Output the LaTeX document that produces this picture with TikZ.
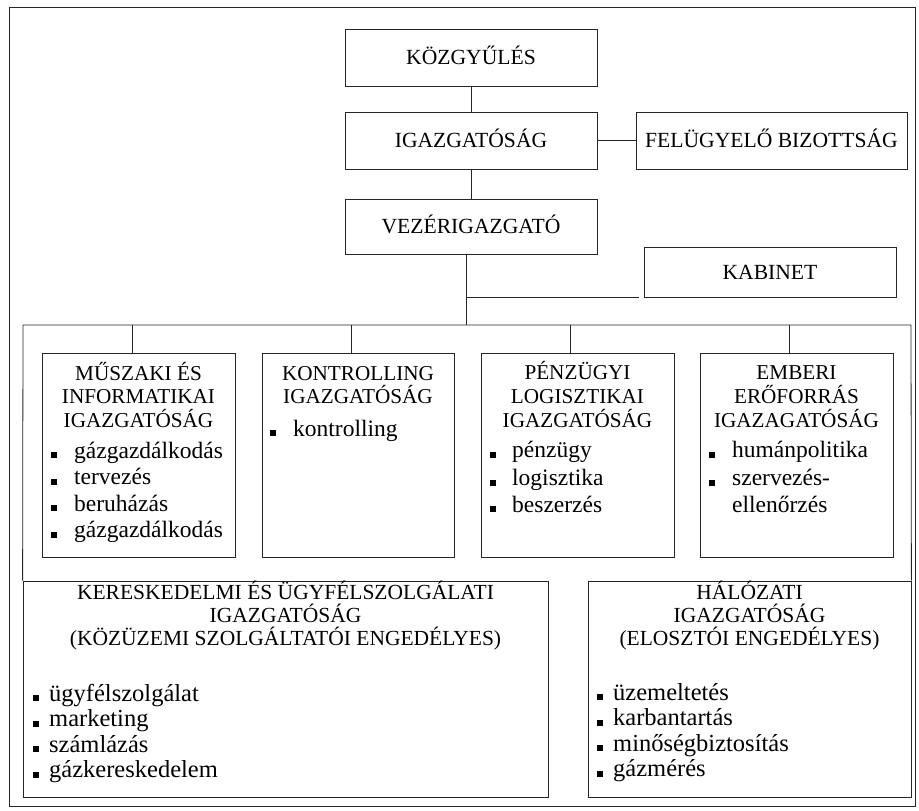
\documentclass[tikz,border=0pt]{standalone}
\usepackage{fontspec}
\setmainfont{Liberation Serif}
\newcommand\bitem[5]{%
  \fill (#2,#4-6) rectangle (#2+6,#4);
  \node[bul] (#1) at (#3,#4) {#5};}
\begin{document}
\begin{tikzpicture}[x=1pt,y=-1pt,
  ln/.style={draw=black!85, line width=0.8pt},
  topbox/.style={ln, rectangle, inner sep=0pt, text height=14pt, text depth=0pt,
    font=\fontsize{21.6}{23}\selectfont},
  plainbox/.style={ln, rectangle, inner sep=0pt},
  ttl/.style={anchor=base, inner sep=0pt, font=\fontsize{21.2}{23}\selectfont},
  bul/.style={anchor=base west, inner sep=0pt, font=\fontsize{23.5}{26}\selectfont},
  bulb/.style={anchor=base west, inner sep=0pt, font=\fontsize{24.5}{26}\selectfont}]
\useasboundingbox (0,0) rectangle (919,811);
\draw[ln] (9,7) rectangle (915,806);

% top level
\node[topbox, minimum width=252pt, minimum height=57pt] (kozgy) at (471,57.5) {KÖZGYŰLÉS};
\node[topbox, minimum width=252pt, minimum height=57pt] (igaz) at (471,140.5) {IGAZGATÓSÁG};
\node[topbox, minimum width=271pt, minimum height=57pt] (fel) at (771.5,140.5) {FELÜGYELŐ BIZOTTSÁG};
\node[topbox, minimum width=252pt, minimum height=55pt] (vez) at (471,226.5) {VEZÉRIGAZGATÓ};
\node[topbox, minimum width=252pt, minimum height=50pt] (kab) at (770,272) {KABINET};

\draw[ln] (kozgy.south) -- (igaz.north);
\draw[ln] (igaz.south) -- (vez.north);
\draw[ln] (igaz.east) -- (fel.west);

\coordinate (hub) at (466,325);
\coordinate (kabj) at (466,297);
\coordinate (kabend) at (639,297);
\draw[ln] (vez.south -| hub) -- (hub);
\draw[ln] (kabj) -- (kabend);

% sub boxes
\node[plainbox, minimum width=193pt, minimum height=204pt] (m) at (138.5,455) {};
\node[plainbox, minimum width=192pt, minimum height=204pt] (k) at (358,455) {};
\node[plainbox, minimum width=193pt, minimum height=204pt] (p) at (577.5,455) {};
\node[plainbox, minimum width=193pt, minimum height=204pt] (e) at (796.5,455) {};

% bottom boxes
\node[plainbox, minimum width=525pt, minimum height=216pt] (ker) at (285.5,689) {};
\node[plainbox, minimum width=323pt, minimum height=216pt] (hal) at (749.5,689) {};

% container
\coordinate (ctl) at (23,325);
\coordinate (ctr) at (911,325);
\draw[ln] (ker.north west) -- (ctl) -- (ctr) -- (hal.north east);
\coordinate (c1) at (132,325);
\coordinate (c2) at (351,325);
\coordinate (c3) at (570,325);
\coordinate (c4) at (789,325);
\draw[ln] (c1) -- (c1 |- m.north);
\draw[ln] (c2) -- (c2 |- k.north);
\draw[ln] (c3) -- (c3 |- p.north);
\draw[ln] (c4) -- (c4 |- e.north);

% MŰSZAKI
\node[ttl] (m1) at (138.5,380) {MŰSZAKI ÉS};
\node[ttl] (m2) at (138.5,403.5) {INFORMATIKAI};
\node[ttl] (m3) at (138.5,427) {IGAZGATÓSÁG};
\bitem{mb1}{51}{74}{458}{gázgazdálkodás}
\bitem{mb2}{51}{74}{484.5}{tervezés}
\bitem{mb3}{51}{74}{511}{beruházás}
\bitem{mb4}{51}{74}{537.5}{gázgazdálkodás}

% KONTROLLING
\node[ttl] (k1) at (358,380) {KONTROLLING};
\node[ttl] (k2) at (358,403) {IGAZGATÓSÁG};
\bitem{kb1}{270}{293}{436}{kontrolling}

% PÉNZÜGYI
\node[ttl] (p1) at (577.5,379.5) {PÉNZÜGYI};
\node[ttl] (p2) at (577.5,403) {LOGISZTIKAI};
\node[ttl] (p3) at (577.5,427) {IGAZGATÓSÁG};
\bitem{pb1}{490}{512}{457.5}{pénzügy}
\bitem{pb2}{490}{512}{485.5}{logisztika}
\bitem{pb3}{490}{512}{512}{beszerzés}

% EMBERI
\node[ttl] (e1) at (796.5,379.5) {EMBERI};
\node[ttl] (e2) at (796.5,403) {ERŐFORRÁS};
\node[ttl] (e3) at (796.5,427) {IGAZAGATÓSÁG};
\bitem{eb1}{709}{732}{457.5}{humánpolitika}
\bitem{eb2}{709}{732}{485.5}{szervezés-}
\node[bul] (eb3) at (732,512) {ellenőrzés};

% KERESKEDELMI
\node[ttl, font=\fontsize{21.5}{23}\selectfont] (r1) at (285.5,599) {KERESKEDELMI ÉS ÜGYFÉLSZOLGÁLATI};
\node[ttl, font=\fontsize{21.5}{23}\selectfont] (r2) at (285.5,622) {IGAZGATÓSÁG};
\node[ttl, font=\fontsize{21.5}{23}\selectfont] (r3) at (285.5,645) {(KÖZÜZEMI SZOLGÁLTATÓI ENGEDÉLYES)};
\begin{scope}[bul/.style=bulb]
\bitem{rb1}{33}{49}{701}{ügyfélszolgálat}
\bitem{rb2}{33}{49}{726.5}{marketing}
\bitem{rb3}{33}{49}{752}{számlázás}
\bitem{rb4}{33}{49}{777.5}{gázkereskedelem}
\end{scope}

% HÁLÓZATI
\node[ttl, font=\fontsize{21.5}{23}\selectfont] (h1) at (749.5,599) {HÁLÓZATI};
\node[ttl, font=\fontsize{21.5}{23}\selectfont] (h2) at (749.5,622) {IGAZGATÓSÁG};
\node[ttl, font=\fontsize{21.5}{23}\selectfont] (h3) at (749.5,645) {(ELOSZTÓI ENGEDÉLYES)};
\begin{scope}[bul/.style=bulb]
\bitem{hb1}{597}{613}{700}{üzemeltetés}
\bitem{hb2}{597}{613}{725.5}{karbantartás}
\bitem{hb3}{597}{613}{751}{minőségbiztosítás}
\bitem{hb4}{597}{613}{776.5}{gázmérés}
\end{scope}
\end{tikzpicture}
\end{document}
